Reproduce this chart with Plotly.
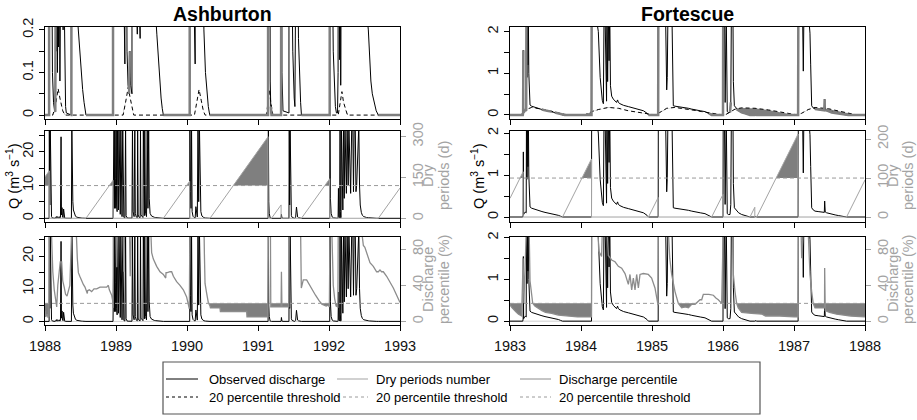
import numpy as np
import plotly.graph_objects as go

# ---------------- DATA ----------------
SITES = ["Ashburton", "Fortescue"]

# Ashburton observed discharge (decimal year, m3/s)
ASH_Q = [
 (1988.000,0),(1988.058,0),(1988.061,28),(1988.068,4),(1988.074,28),(1988.082,2.5),(1988.092,0.5),
 (1988.105,0.1),(1988.120,0.03),(1988.135,0.01),(1988.145,0.008),(1988.150,0.3),(1988.160,0.15),
 (1988.168,0.6),(1988.175,0.1),(1988.182,0.25),(1988.190,0.16),(1988.200,0.5),(1988.210,0.08),
 (1988.218,0.3),(1988.226,24.5),(1988.232,1.0),(1988.240,3.2),(1988.246,0.4),(1988.255,0.2),
 (1988.262,2.8),(1988.268,0.3),(1988.278,0.06),(1988.290,0.02),(1988.300,0.005),(1988.360,0),
 (1988.372,0),(1988.378,28),(1988.385,12),(1988.392,5),(1988.400,2.5),(1988.415,1.2),(1988.430,0.6),
 (1988.450,0.32),(1988.465,0.21),(1988.490,0.15),(1988.510,0.1),(1988.530,0.06),(1988.550,0.03),
 (1988.565,0.01),(1988.577,0),
 (1988.958,0),(1988.962,28),(1988.967,6),(1988.972,28),(1988.978,3),(1988.984,28),(1988.990,12),
 (1988.996,3),(1989.003,28),(1989.009,4),(1989.016,2),(1989.022,28),(1989.028,5),(1989.035,2.5),
 (1989.042,28),(1989.050,3),(1989.060,1.2),(1989.068,28),(1989.075,1.5),(1989.085,0.5),(1989.095,28),
 (1989.100,1.0),(1989.110,0.3),(1989.125,0.12),(1989.135,28),(1989.142,0.8),(1989.155,0.15),
 (1989.170,0.07),(1989.185,0.05),(1989.195,0.15),(1989.205,0.07),(1989.225,0.05),(1989.232,28),
 (1989.240,2),(1989.255,0.5),(1989.265,28),(1989.272,1.5),(1989.285,0.4),(1989.300,0.19),(1989.305,28),
 (1989.312,1),(1989.325,0.3),(1989.340,0.18),(1989.345,28),(1989.352,1),(1989.365,0.4),(1989.380,0.22),
 (1989.385,28),(1989.390,2),(1989.400,0.8),(1989.405,28),(1989.415,1.5),(1989.430,0.5),(1989.440,28),
 (1989.450,3),(1989.460,28),(1989.468,6),(1989.480,1.5),(1989.500,0.7),(1989.520,0.45),(1989.540,0.3),
 (1989.560,0.23),(1989.575,0.19),(1989.595,0.13),(1989.615,0.08),(1989.635,0.04),(1989.652,0.015),
 (1989.667,0),
 (1990.038,0),(1990.041,28),(1990.048,8),(1990.056,3),(1990.064,28),(1990.072,2),(1990.085,0.6),
 (1990.100,0.25),(1990.115,0.12),(1990.125,3.5),(1990.135,1),(1990.145,0.4),(1990.155,28),(1990.165,5),
 (1990.175,28),(1990.185,6),(1990.195,2),(1990.210,0.7),(1990.225,0.35),(1990.238,0.2),(1990.260,0.1),
 (1990.280,0.05),(1990.300,0.02),(1990.315,0.005),(1990.324,0),
 (1991.142,0),(1991.146,28),(1991.152,5),(1991.158,1.5),(1991.165,0.3),(1991.172,0.08),(1991.180,0.02),
 (1991.190,0),(1991.325,0),(1991.330,1.2),(1991.337,0.1),(1991.345,0.02),(1991.352,0.01),(1991.436,0.005),
 (1991.440,28),(1991.446,4),(1991.452,28),(1991.460,3),(1991.470,0.8),(1991.480,0.3),(1991.490,0.15),
 (1991.500,0.08),(1991.510,0.04),(1991.520,0.02),(1991.530,0.3),(1991.542,3.4),(1991.548,1),
 (1991.558,0.4),(1991.570,0.18),(1991.585,0.09),(1991.600,0.03),(1991.612,0),
 (1992.010,0),(1992.014,28),(1992.020,6),(1992.030,1.5),(1992.045,0.4),(1992.060,0.15),(1992.075,0.06),
 (1992.090,0.02),(1992.105,0.005),(1992.120,0.005),(1992.128,0.1),(1992.133,9),(1992.138,0.5),
 (1992.150,0.13),(1992.156,28),(1992.160,2),(1992.165,0.07),(1992.170,0.4),(1992.175,28),(1992.185,5),
 (1992.195,2.5),(1992.205,28),(1992.215,6),(1992.225,28),(1992.235,12),(1992.245,7.5),(1992.255,28),
 (1992.270,10),(1992.280,28),(1992.295,9),(1992.305,7.5),(1992.320,28),(1992.335,28),(1992.345,8),
 (1992.355,28),(1992.370,28),(1992.380,8),(1992.390,10),(1992.410,28),(1992.420,28),(1992.430,10),
 (1992.440,4),(1992.455,1.8),(1992.470,0.9),(1992.490,0.5),(1992.510,0.33),(1992.530,0.24),
 (1992.554,0.2),(1992.570,0.14),(1992.590,0.08),(1992.610,0.05),(1992.640,0.025),(1992.665,0.01),
 (1992.695,0),(1993.000,0),
]

# Ashburton 20 percentile threshold of discharge (m3/s)
ASH_QTHR = [
 (1988.000,0),(1988.110,0),(1988.150,0.025),(1988.185,0.062),(1988.210,0.04),(1988.250,0.01),(1988.280,0),
 (1989.100,0),(1989.135,0.03),(1989.172,0.065),(1989.200,0.04),(1989.230,0.01),(1989.250,0),
 (1990.105,0),(1990.140,0.03),(1990.170,0.06),(1990.200,0.035),(1990.230,0.01),(1990.255,0),
 (1991.120,0),(1991.140,0.03),(1991.160,0.06),(1991.180,0.03),(1991.210,0),
 (1992.130,0),(1992.160,0.03),(1992.182,0.055),(1992.205,0.03),(1992.235,0.01),(1992.260,0),
 (1993.000,0),
]

# Ashburton dry period length (days)
ASH_DRY = [
 (1988.000,152),(1988.060,174),(1988.0601,0),(1988.577,0),(1988.958,139),(1988.9581,0),
 (1989.667,0),(1990.038,136),(1990.0381,0),(1990.324,0),(1991.142,299),(1991.1421,0),
 (1991.190,0),(1991.325,49),(1991.3251,0),(1991.612,0),(1992.010,145),(1992.0101,0),
 (1992.695,0),(1993.000,111),
]
ASH_DRY_THR = 120

# Ashburton discharge percentile (%)
ASH_PCT = [
 (1988.000,12),(1988.010,5),(1988.030,8),(1988.045,4),(1988.058,6),(1988.061,100),(1988.090,100),
 (1988.110,55),(1988.130,35),(1988.150,22),(1988.165,16),(1988.180,40),(1988.200,55),(1988.215,66),
 (1988.235,66),(1988.250,45),(1988.270,38),(1988.290,30),(1988.310,28),(1988.350,40),(1988.375,100),
 (1988.440,100),(1988.455,70),(1988.470,54),(1988.490,50),(1988.516,44),(1988.540,41),(1988.563,38),
 (1988.596,31),(1988.600,34),(1988.624,35),(1988.657,33),(1988.690,36),(1988.728,36),(1988.775,38),
 (1988.820,38),(1988.869,38),(1988.892,40),(1988.906,35),(1988.939,29),(1988.953,23),(1988.960,15),
 (1988.962,100),(1989.000,100),(1989.010,60),(1989.020,100),(1989.100,100),(1989.110,55),(1989.120,100),
 (1989.190,100),(1989.200,50),(1989.215,100),(1989.490,100),(1989.502,76),(1989.526,69),(1989.573,61),
 (1989.620,55),(1989.667,52),(1989.700,48),(1989.705,54),(1989.723,54),(1989.761,55),(1989.784,55),
 (1989.808,50),(1989.854,44),(1989.901,40),(1989.948,35),(1989.995,27),(1990.019,20),(1990.033,14),
 (1990.040,100),(1990.240,100),(1990.245,75),(1990.254,42),(1990.277,31),(1990.300,21),(1990.324,17),
 (1990.330,15),(1990.465,15),(1990.470,11),(1990.840,11),(1990.845,5),(1991.140,5),(1991.146,100),
 (1991.175,100),(1991.180,16),(1991.325,16),(1991.330,55),(1991.337,16),(1991.436,16),(1991.440,100),
 (1991.600,100),(1991.610,37),(1991.620,42),(1991.638,46),(1991.685,46),(1991.700,44),(1991.720,40),
 (1991.765,35),(1991.810,29),(1991.860,23),(1991.900,19),(1991.960,17),(1991.990,18),(1992.005,16),
 (1992.014,100),(1992.040,100),(1992.060,40),(1992.080,25),(1992.100,17),(1992.125,16),(1992.130,100),
 (1992.460,100),(1992.484,84),(1992.505,82),(1992.531,76),(1992.555,70),(1992.577,65),(1992.624,61),
 (1992.671,55),(1992.695,55),(1992.718,57),(1992.740,55),(1992.765,55),(1992.812,50),(1992.859,44),
 (1992.906,37),(1992.953,29),(1993.000,21),
]

# Fortescue observed discharge (m3/s)
FOR_Q = [
 (1983.000,0),(1983.180,0),(1983.185,0.05),(1983.188,1.55),(1983.192,0.06),(1983.200,0.08),
 (1983.215,0.12),(1983.228,0.1),(1983.232,2.5),(1983.240,0.9),(1983.245,2.5),(1983.252,1.2),
 (1983.258,2.5),(1983.265,1.0),(1983.272,0.5),(1983.282,0.24),(1983.305,0.21),(1983.350,0.18),
 (1983.399,0.16),(1983.450,0.13),(1983.493,0.11),(1983.540,0.095),(1983.587,0.085),(1983.630,0.06),
 (1983.681,0.04),(1983.710,0.02),(1983.740,0),
 (1984.148,0),(1984.150,2.5),(1984.200,2.5),(1984.244,2.0),(1984.270,0.9),(1984.300,0.35),
 (1984.315,0.27),(1984.325,2.5),(1984.338,2.5),(1984.350,0.5),(1984.360,0.33),(1984.365,2.5),
 (1984.375,0.8),(1984.385,2.5),(1984.395,1.3),(1984.405,2.5),(1984.415,0.7),(1984.432,0.45),
 (1984.455,0.38),(1984.480,0.33),(1984.500,0.3),(1984.515,0.36),(1984.526,0.3),(1984.549,0.27),
 (1984.600,0.23),(1984.667,0.2),(1984.740,0.17),(1984.808,0.14),(1984.880,0.1),(1984.930,0.04),
 (1984.950,0),
 (1985.087,0),(1985.089,2.5),(1985.190,2.5),(1985.200,0.9),(1985.207,0.6),(1985.215,0.9),(1985.225,2.5),
 (1985.280,2.5),(1985.290,0.6),(1985.300,0.22),(1985.324,0.21),(1985.370,0.2),(1985.418,0.185),
 (1985.465,0.17),(1985.512,0.16),(1985.560,0.14),(1985.606,0.12),(1985.680,0.1),(1985.746,0.08),
 (1985.800,0.04),(1985.840,0),
 (1986.000,0),(1986.003,2.5),(1986.020,2.5),(1986.030,0.3),(1986.045,2.5),(1986.052,0.4),(1986.060,0.08),
 (1986.075,0.06),(1986.099,0.06),(1986.110,0.3),(1986.118,2.5),(1986.140,2.5),(1986.146,0.8),
 (1986.160,0.22),(1986.169,0.2),(1986.192,0.14),(1986.220,0.1),(1986.263,0.06),(1986.310,0.04),
 (1986.357,0.01),(1986.380,0),(1986.448,0),(1986.452,0.01),(1986.470,0.005),(1986.474,0),
 (1987.058,0),(1987.061,2.5),(1987.120,2.5),(1987.131,1.05),(1987.140,2.5),(1987.200,2.5),(1987.225,1.96),
 (1987.235,1.2),(1987.249,0.22),(1987.270,0.17),(1987.296,0.14),(1987.340,0.13),(1987.390,0.12),
 (1987.427,0.11),(1987.432,0.38),(1987.440,0.12),(1987.460,0.1),(1987.500,0.08),(1987.531,0.06),
 (1987.580,0.05),(1987.624,0.035),(1987.670,0.02),(1987.710,0.008),(1987.740,0),(1988.000,0),
]

# Fortescue 20 percentile threshold of discharge (m3/s)
FOR_QTHR = [
 (1983.000,0),(1983.140,0),(1983.210,0.12),(1983.305,0.18),(1983.446,0.14),(1983.587,0.08),
 (1983.680,0.045),(1983.770,0.015),(1983.850,0),
 (1984.050,0),(1984.150,0.08),(1984.244,0.13),(1984.385,0.18),(1984.526,0.16),(1984.667,0.1),
 (1984.850,0.05),(1984.950,0.015),(1985.000,0),
 (1985.050,0),(1985.100,0.05),(1985.207,0.16),(1985.324,0.18),(1985.512,0.14),(1985.606,0.11),
 (1985.700,0.08),(1985.746,0.065),(1985.840,0.04),(1985.930,0.01),(1986.000,0),
 (1986.030,0),(1986.075,0.04),(1986.169,0.14),(1986.263,0.17),(1986.451,0.16),(1986.640,0.12),
 (1986.830,0.06),(1986.970,0.01),(1987.000,0),
 (1987.050,0),(1987.108,0.04),(1987.200,0.13),(1987.296,0.18),(1987.484,0.15),(1987.624,0.095),
 (1987.765,0.04),(1987.860,0.01),(1987.950,0),(1988.000,0),
]

# Fortescue dry period length (days)
FOR_DRY = [
 (1983.000,48),(1983.185,116),(1983.1851,0),(1983.740,0),(1984.148,149),(1984.1481,0),
 (1984.950,0),(1985.087,50),(1985.0871,0),(1985.840,0),(1986.000,58),(1986.0001,0),
 (1986.380,0),(1986.448,25),(1986.4481,0),(1986.474,0),(1987.058,213),(1987.0581,0),
 (1987.740,0),(1988.000,95),
]
FOR_DRY_THR = 100

# Fortescue discharge percentile (%)
FOR_PCT = [
 (1983.000,20),(1983.010,17),(1983.030,15),(1983.060,12),(1983.090,10),(1983.120,8),(1983.150,7),
 (1983.164,6),(1983.185,70),(1983.195,20),(1983.230,100),(1983.270,100),(1983.282,45),(1983.300,30),
 (1983.320,20),(1983.350,17),(1983.400,14),(1983.450,12),(1983.500,10),(1983.587,9),(1983.680,7),
 (1983.800,6),(1983.950,5),(1984.148,5),(1984.150,100),(1984.240,100),(1984.250,78),(1984.290,72),
 (1984.300,100),(1984.370,100),(1984.385,73),(1984.432,68),(1984.479,66),(1984.526,61),(1984.573,59),
 (1984.620,53),(1984.667,41),(1984.690,52),(1984.714,35),(1984.737,48),(1984.761,35),(1984.784,52),
 (1984.808,37),(1984.831,52),(1984.878,53),(1984.948,52),(1984.995,48),(1985.042,37),(1985.066,24),
 (1985.085,18),(1985.089,100),(1985.230,100),(1985.250,70),(1985.277,52),(1985.324,33),(1985.371,20),
 (1985.418,15),(1985.470,16),(1985.512,15),(1985.560,19),(1985.606,19),(1985.640,21),(1985.676,24),
 (1985.700,24),(1985.723,30),(1985.800,30),(1985.864,29),(1985.900,26),(1985.934,24),(1985.981,20),
 (1986.003,100),(1986.140,100),(1986.146,52),(1986.169,33),(1986.192,20),(1986.215,15),(1986.250,12),
 (1986.263,10),(1986.400,9),(1986.550,8),(1986.600,6),(1986.800,6),(1987.000,5),(1987.058,5),
 (1987.061,100),(1987.100,100),(1987.108,70),(1987.130,100),(1987.200,100),(1987.225,52),(1987.249,33),
 (1987.270,20),(1987.296,15),(1987.430,15),(1987.432,59),(1987.440,12),(1987.500,10),(1987.600,8),
 (1987.700,7),(1987.800,6),(1988.000,5),
]

PCT_THR = 20
X_TICKS = {"Ashburton": [1988, 1989, 1990, 1991, 1992, 1993],
           "Fortescue": [1983, 1984, 1985, 1986, 1987, 1988]}

LEGEND_ROW1 = ["Observed discharge", "Dry periods number", "Discharge percentile"]
LEGEND_ROW2 = ["20 percentile threshold"] * 3

# ---------------- LAYOUT / STYLE ----------------
W, H = 917, 420
FONT = "Liberation Sans, Arial, sans-serif"
BLACK = "#000000"
FILL = "#7f7f7f"
DRYCOL = "#a3a3a3"
PCTCOL = "#8c8c8c"
THRG = "#9a9a9a"
RTXT = "#a3a3a3"
TICKSZ = 14.5
LABSZ = 14.5


def px(x):
    return x / W


def py(y):
    return 1 - y / H


def unzip(pairs):
    t = np.array([p[0] for p in pairs], float)
    v = np.array([p[1] for p in pairs], float)
    assert np.all(np.diff(t) > 0), "times not increasing"
    return t, v


def band(x, y, t, below=True):
    """polygon between threshold t and y where y is below (or above) t"""
    X, A, B = [x[0]], [y[0]], [t[0]]
    for i in range(1, len(x)):
        d0, d1 = y[i-1] - t[i-1], y[i] - t[i]
        if d0 * d1 < 0:
            f = d0 / (d0 - d1)
            xc = x[i-1] + f * (x[i] - x[i-1])
            yc = t[i-1] + f * (t[i] - t[i-1])
            X.append(xc); A.append(yc); B.append(yc)
        X.append(x[i]); A.append(y[i]); B.append(t[i])
    X, A, B = np.array(X), np.array(A), np.array(B)
    edge = np.minimum(A, B) if below else np.maximum(A, B)
    return np.concatenate([X, X[::-1]]), np.concatenate([edge, B[::-1]])


XD = [[45 / W, 400 / W], [510 / W, 865 / W]]
YD = [[py(118.5), py(26.5)], [py(221.5), py(130.5)], [py(324.5), py(236.5)]]

RANGES = {
    "Ashburton": dict(top=[-0.008, 0.208], mid=[-0.96, 26.4], dry=[-11.8, 322],
                      bot=[-0.95, 26.0], pct=[-3.4, 94]),
    "Fortescue": dict(top=[-0.085, 2.12], mid=[-0.107, 2.06], dry=[-11.5, 222],
                      bot=[-0.08, 2.03], pct=[-3.4, 94]),
}
YT = {
    "Ashburton": dict(top=([0, 0.1, 0.2], ["0", "0.1", "0.2"], [0.05, 0.15]),
                      q=([0, 10, 20], ["0", "10", "20"], [5, 15, 25]),
                      dry=[0, 150, 300]),
    "Fortescue": dict(top=([0, 1, 2], ["0", "1", "2"], [0.5, 1.5]),
                      q=([0, 1, 2], ["0", "1", "2"], [0.5, 1.5]),
                      dry=[0, 100, 200]),
}

data = {
    "Ashburton": dict(q=ASH_Q, thr=ASH_QTHR, dry=ASH_DRY, drythr=ASH_DRY_THR, pct=ASH_PCT),
    "Fortescue": dict(q=FOR_Q, thr=FOR_QTHR, dry=FOR_DRY, drythr=FOR_DRY_THR, pct=FOR_PCT),
}

fig = go.Figure()
layout = dict(width=W, height=H, margin=dict(l=0, r=0, t=0, b=0),
              paper_bgcolor="white", plot_bgcolor="white", showlegend=False,
              font=dict(family=FONT, size=12, color=BLACK))
shapes, annos = [], []


def add(x, y, xa, ya, **kw):
    fig.add_trace(go.Scatter(x=x, y=y, xaxis=xa, yaxis=ya, mode="lines",
                             hoverinfo="skip", showlegend=False, **kw))


def ax_name(prefix, k):
    return prefix + ("" if k == 1 else str(k))


def vtext(text, x, y, color, size=LABSZ):
    annos.append(dict(text=text, x=px(x), y=py(y), xref="paper", yref="paper",
                      showarrow=False, textangle=-90, font=dict(size=size, color=color),
                      xanchor="center", yanchor="middle"))


for c, site in enumerate(SITES):
    d = data[site]
    R = RANGES[site]
    qt, qv = unzip(d["q"])
    tt, tv = unzip(d["thr"])
    dt, dv = unzip(d["dry"])
    pt, pv = unzip(d["pct"])
    x0, x1 = X_TICKS[site][0], X_TICKS[site][-1]

    # common grid for Q and threshold
    grid = np.union1d(qt, tt)
    qg = np.interp(grid, qt, qv)
    tg = np.interp(grid, tt, tv)

    for r in range(3):
        k = r * 2 + c + 1
        xa, ya = "x" + ("" if k == 1 else str(k)), "y" + ("" if k == 1 else str(k))
        xkey, ykey = ax_name("xaxis", k), ax_name("yaxis", k)
        layout[xkey] = dict(domain=XD[c], range=[x0, x1], anchor=ya, tickvals=X_TICKS[site],
                            ticks="outside", ticklen=5, tickcolor=BLACK, showline=True,
                            linecolor=BLACK, linewidth=1, mirror=True, showgrid=False,
                            zeroline=False, showticklabels=(r == 2), automargin=False,
                            tickfont=dict(size=TICKSZ, color="#111"), ticklabelstandoff=3)
        if r == 0:
            tv_, tx_, mn_ = YT[site]["top"]
            rng = R["top"]
        else:
            tv_, tx_, mn_ = YT[site]["q"]
            rng = R["mid"] if r == 1 else R["bot"]
        layout[ykey] = dict(domain=YD[r], range=rng, anchor=xa, tickvals=tv_, ticktext=tx_,
                            ticks="outside", ticklen=5, tickcolor=BLACK, showline=True,
                            linecolor=BLACK, linewidth=1, mirror=True, showgrid=False,
                            zeroline=False, tickangle=-90, automargin=False,
                            tickfont=dict(size=TICKSZ, color="#111"),
                            minor=dict(tickvals=mn_, ticks="outside", ticklen=5,
                                       tickcolor=BLACK, showgrid=False))

        if r == 0:
            # drought fill (Q below threshold)
            bx, by = band(grid, qg, tg, below=True)
            add(bx, by, xa, ya, fill="toself", fillcolor=FILL, line=dict(width=0))
            add(qt, qv, xa, ya, line=dict(color=BLACK, width=1))
            add(tt, tv, xa, ya, line=dict(color=BLACK, width=1, dash="4px,3px"))
            # grey drought trace (Q while below threshold, plus the rise that ends it)
            gx, gy = [], []
            dr = qg <= tg + 1e-12
            for i in range(len(grid)):
                if dr[i]:
                    gx.append(grid[i]); gy.append(qg[i])
                elif i > 0 and dr[i-1]:
                    gx.append(grid[i]); gy.append(qg[i]); gx.append(None); gy.append(None)
            add(gx, gy, xa, ya, line=dict(color=FILL, width=2.5))
        else:
            add(qt, qv, xa, ya, line=dict(color=BLACK, width=1))
            k2 = 7 + c if r == 1 else 9 + c
            ya2 = "y" + str(k2)
            if r == 1:
                rng2, tv2, thr2 = R["dry"], YT[site]["dry"], d["drythr"]
            else:
                rng2, tv2, thr2 = R["pct"], [0, 40, 80], PCT_THR
            layout["yaxis" + str(k2)] = dict(range=rng2, overlaying=ya, anchor=xa, side="right",
                                             tickvals=tv2, ticks="outside", ticklen=5,
                                             tickcolor=RTXT, showline=False, showgrid=False,
                                             zeroline=False, tickangle=-90, automargin=False,
                                             tickfont=dict(size=TICKSZ, color=RTXT))
            if r == 1:
                bx, by = band(dt, dv, np.full(len(dt), float(thr2)), below=False)
                add(bx, by, xa, ya2, fill="toself", fillcolor=FILL, line=dict(width=0))
                add(dt, dv, xa, ya2, line=dict(color=DRYCOL, width=1))
            else:
                bx, by = band(pt, pv, np.full(len(pt), float(thr2)), below=True)
                add(bx, by, xa, ya2, fill="toself", fillcolor=FILL, line=dict(width=0))
                add(pt, pv, xa, ya2, line=dict(color=PCTCOL, width=1.3))
                shapes.append(dict(type="line", xref=xa + " domain", x0=0, x1=1, yref=ya,
                                   y0=0, y1=0, line=dict(color="#cfcfcf", width=1), layer="below"))
            shapes.append(dict(type="line", xref=xa + " domain", x0=0, x1=1, yref=ya2,
                               y0=thr2, y1=thr2, line=dict(color=THRG, width=1, dash="4px,3px")))

    # titles
    cx = (XD[c][0] + XD[c][1]) / 2
    annos.append(dict(text="<b>" + site + "</b>", x=cx, y=py(14), xref="paper", yref="paper",
                      showarrow=False, font=dict(size=19.5, color=BLACK), xanchor="center",
                      yanchor="middle"))
    lx = 13 if c == 0 else 478
    r1 = 428 if c == 0 else 893
    r2 = 444 if c == 0 else 908
    vtext("Q (m<sup>3</sup> s<sup>\u22121</sup>)", lx, 176, BLACK)
    vtext("Dry", r1, 176, RTXT)
    vtext("periods (d)", r2, 176, RTXT)
    vtext("Discharge", r1, 280, RTXT)
    vtext("percentile (%)", r2, 280, RTXT)

# ---------------- legend (drawn as shapes + text) ----------------
shapes.append(dict(type="rect", xref="paper", yref="paper", x0=px(163), x1=px(760),
                   y0=py(414), y1=py(362), line=dict(color="#555", width=1.2)))
col_line = [(166, 198), (337, 368), (520, 551)]
col_text = [207, 374, 557]
row_y = [379, 397]
row1_style = [dict(color=BLACK, width=1), dict(color=DRYCOL, width=1), dict(color=PCTCOL, width=1)]
row2_style = [dict(color=BLACK, width=1, dash="3px,3px"), dict(color=THRG, width=1, dash="3px,3px"),
              dict(color=THRG, width=1, dash="3px,3px")]
for j in range(3):
    for r, (labels, styles) in enumerate([(LEGEND_ROW1, row1_style), (LEGEND_ROW2, row2_style)]):
        shapes.append(dict(type="line", xref="paper", yref="paper", x0=px(col_line[j][0]),
                           x1=px(col_line[j][1]), y0=py(row_y[r]), y1=py(row_y[r]),
                           line=styles[j]))
        annos.append(dict(text=labels[j], x=px(col_text[j]), y=py(row_y[r]), xref="paper",
                          yref="paper", showarrow=False, xanchor="left", yanchor="middle",
                          font=dict(size=13, color=BLACK)))

layout["shapes"] = shapes
layout["annotations"] = annos
fig.update_layout(**layout)
fig.write_html("out.html")
